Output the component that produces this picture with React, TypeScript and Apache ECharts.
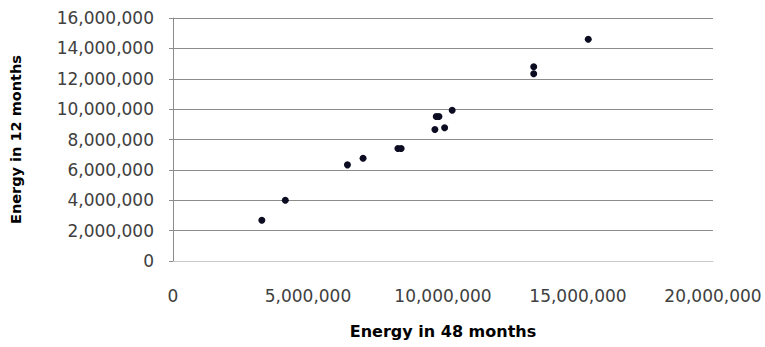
import React, { useEffect, useRef } from "react";
import * as echarts from "echarts";

const energy48: number[] = [
  15.38e6, 13.36e6, 13.36e6, 10.34e6, 9.75e6, 9.85e6, 9.7e6, 10.06e6,
  8.33e6, 8.45e6, 7.04e6, 6.46e6, 4.16e6, 3.29e6,
];
const energy12: number[] = [
  14.6e6, 12.79e6, 12.33e6, 9.93e6, 9.51e6, 9.51e6, 8.66e6, 8.77e6,
  7.41e6, 7.41e6, 6.77e6, 6.33e6, 4.0e6, 2.68e6,
];
const xTitle = "Energy in 48 months";
const yTitle = "Energy in 12 months";

const fmt = (v: number) => v.toLocaleString("en-US");

export default function App() {
  const ref = useRef<HTMLDivElement>(null);
  useEffect(() => {
    document.body.style.margin = "0";
    document.body.style.overflow = "hidden";
    if (!ref.current) return;
    const chart = echarts.init(ref.current, undefined, { renderer: "svg" });
    const font = "DejaVu Sans";
    chart.setOption({
      animation: false,
      backgroundColor: "#ffffff",
      grid: { left: 173, right: 52, top: 18, bottom: 86, containLabel: false },
      xAxis: {
        type: "value",
        min: 0,
        max: 20000000,
        interval: 5000000,
        name: xTitle,
        nameLocation: "middle",
        nameGap: 62,
        nameTextStyle: { fontFamily: font, fontSize: 16, fontWeight: "bold", color: "#000" },
        axisLine: { show: true, lineStyle: { color: "#c8c8c8", width: 1 } },
        axisTick: { show: false },
        splitLine: { show: false },
        axisLabel: { fontFamily: font, fontSize: 17, color: "#404040", margin: 26, formatter: fmt },
      },
      yAxis: {
        type: "value",
        min: 0,
        max: 16000000,
        interval: 2000000,
        name: yTitle,
        nameLocation: "middle",
        nameGap: 150,
        nameRotate: 90,
        nameTextStyle: { fontFamily: font, fontSize: 14.5, fontWeight: "bold", color: "#000" },
        axisLine: { show: true, lineStyle: { color: "#8c8c8c", width: 1 } },
        axisTick: { show: true, inside: false, length: 4, lineStyle: { color: "#8c8c8c" } },
        splitLine: { show: true, lineStyle: { color: "#8c8c8c", width: 1 } },
        axisLabel: { fontFamily: font, fontSize: 17, color: "#404040", margin: 19, formatter: fmt },
      },
      series: [
        {
          type: "scatter",
          symbol: "circle",
          symbolSize: 7,
          itemStyle: { color: "#0b0b22", opacity: 1 },
          data: energy48.map((x, i) => [x, energy12[i]]),
        },
      ],
    });
    return () => chart.dispose();
  }, []);
  return <div ref={ref} style={{ width: 765, height: 347 }} />;
}
